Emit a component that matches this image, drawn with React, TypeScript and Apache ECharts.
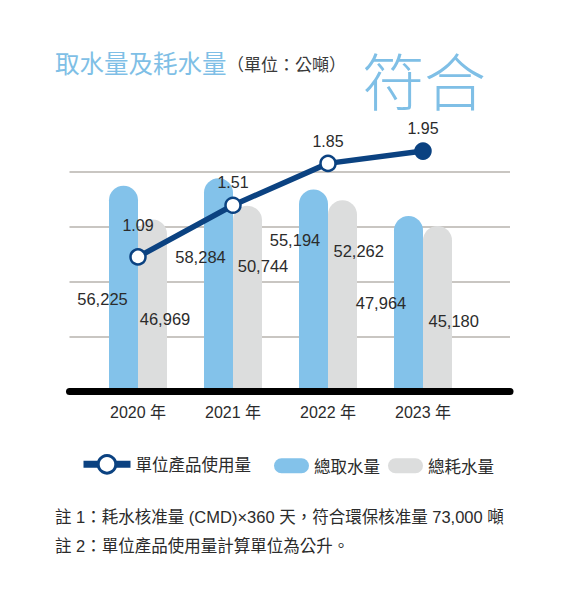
import React, { useEffect, useRef } from "react";
import * as echarts from "echarts";

const years = ["2020 年", "2021 年", "2022 年", "2023 年"];
const intake = [56225, 58284, 55194, 47964];
const consumption = [46969, 50744, 52262, 45180];
const usage = [1.09, 1.51, 1.85, 1.95];
const barTicks = { min: 0, max: 60000, interval: 15000 };

// label placement (kept apart from data)
const intakeLabelPos = [[-6.5, 113.5], [-3.5, 79], [-4, 50.5], [-13, 86.8]];
const consLabelPos = [[27, 99.7], [30, 60], [30.7, 50.8], [30.7, 94.6]];
const usageLabelGap = [14.5, 5.5, 5.5, 5.5];

const FONT = "'Liberation Sans', 'Noto Sans CJK TC', sans-serif";
const CJK = "'Noto Sans CJK TC', 'Liberation Sans', sans-serif";
const NAVY = "#0b4281";
const BLUE = "#83c2ea";
const GRAY = "#dcdddd";
const TITLE_BLUE = "#7fbfe6";
const TEXT = "#2b2b2b";

const pill = "path://M7.5,0 H27.5 A7.5,7.5 0 0 1 27.5,15 H7.5 A7.5,7.5 0 0 1 7.5,0 Z";

export default function App() {
  const ref = useRef<HTMLDivElement>(null);
  useEffect(() => {
    if (!ref.current) return;
    const chart = echarts.init(ref.current, undefined, { renderer: "svg" });
    const fmt = (v: number) => v.toLocaleString("en-US");
    chart.setOption({
      animation: false,
      backgroundColor: "#fff",
      title: [
        { text: "取水量及耗水量", left: 55, top: 50, padding: 0, textStyle: { fontFamily: CJK, fontSize: 24.5, lineHeight: 25, fontWeight: "normal", color: TITLE_BLUE } },
        { text: "（單位：公噸）", left: 227, top: 54, padding: 0, textStyle: { fontFamily: CJK, fontSize: 17, lineHeight: 18, fontWeight: "normal", color: "#3a3a3a" } },
        { text: "符合", left: 362, top: 48, padding: 0, textStyle: { fontFamily: CJK, fontSize: 62, lineHeight: 62, fontWeight: 300, color: TITLE_BLUE } },
      ],
      legend: [
        {
          data: ["單位產品使用量"], left: 80, top: 454, padding: 0, itemWidth: 47, itemHeight: 22,
          lineStyle: { width: 7 }, itemStyle: { borderWidth: 3 },
          textStyle: { fontFamily: CJK, fontSize: 16.5, color: TEXT },
        },
        {
          data: ["總取水量"], left: 274, top: 457.5, padding: 0, itemWidth: 35, itemHeight: 15, icon: pill,
          textStyle: { fontFamily: CJK, fontSize: 16.5, color: TEXT },
        },
        {
          data: ["總耗水量"], left: 388, top: 457.5, padding: 0, itemWidth: 35, itemHeight: 15, icon: pill,
          textStyle: { fontFamily: CJK, fontSize: 16.5, color: TEXT },
        },
      ],
      grid: [
        { left: 69.5, right: 71, top: 172, bottom: 213 },
        { left: 90.5, right: 110.5, top: 172, bottom: 213 },
      ],
      xAxis: [
        {
          type: "value", gridIndex: 0, min: 0, max: 1, z: 10,
          axisLine: { show: true, lineStyle: { color: "#000", width: 7, cap: "round" } },
          axisTick: { show: false }, axisLabel: { show: false }, splitLine: { show: false },
        },
        {
          type: "category", gridIndex: 1, data: years,
          axisLine: { show: false }, axisTick: { show: false },
          axisLabel: { margin: 13, fontFamily: FONT, fontSize: 16, color: TEXT },
        },
      ],
      yAxis: [
        {
          type: "value", gridIndex: 0, ...barTicks,
          axisLine: { show: false }, axisTick: { show: false }, axisLabel: { show: false },
          splitLine: { show: true, lineStyle: { color: "#c9c6c2", width: 2 } },
        },
        { type: "value", gridIndex: 1, ...barTicks, show: false, splitLine: { show: false } },
        { type: "value", gridIndex: 1, min: 0, max: 1.78, show: false, splitLine: { show: false } },
      ],
      graphic: [
        {
          type: "text", left: 55, top: 509,
          style: { text: "註 1：耗水核准量 (CMD)×360 天，符合環保核准量 73,000 噸", fontFamily: FONT, fontSize: 16.5, fill: TEXT },
        },
        {
          type: "text", left: 55, top: 538,
          style: { text: "註 2：單位產品使用量計算單位為公升。", fontFamily: FONT, fontSize: 16.5, fill: TEXT },
        },
      ],
      series: [
        {
          name: "總取水量", type: "bar", xAxisIndex: 1, yAxisIndex: 1,
          barWidth: 29, barGap: "0%", z: 2,
          itemStyle: { color: BLUE, borderRadius: [14.5, 14.5, 0, 0] },
          data: intake.map((v, i) => ({
            value: v,
            label: { show: true, position: intakeLabelPos[i], align: "center", verticalAlign: "middle" },
          })),
          label: { formatter: (p: any) => fmt(p.value), fontFamily: FONT, fontSize: 16.5, color: TEXT },
        },
        {
          name: "總耗水量", type: "bar", xAxisIndex: 1, yAxisIndex: 1,
          barWidth: 29, barGap: "0%", z: 2,
          itemStyle: { color: GRAY, borderRadius: [14.5, 14.5, 0, 0] },
          data: consumption.map((v, i) => ({
            value: v,
            label: { show: true, position: consLabelPos[i], align: "center", verticalAlign: "middle" },
          })),
          label: { formatter: (p: any) => fmt(p.value), fontFamily: FONT, fontSize: 16.5, color: TEXT },
        },
        {
          name: "單位產品使用量", type: "line", xAxisIndex: 1, yAxisIndex: 2, z: 5, clip: false,
          symbol: "circle", symbolSize: 15,
          lineStyle: { color: NAVY, width: 5.5 },
          itemStyle: { color: "#fff", borderColor: NAVY, borderWidth: 2.5 },
          label: { show: true, position: "top", fontFamily: FONT, fontSize: 16, color: TEXT },
          data: usage.map((v, i) => ({
            value: v,
            label: { distance: usageLabelGap[i] },
            ...(i === usage.length - 1 ? { itemStyle: { color: NAVY, borderColor: NAVY } } : {}),
          })),
        },
      ],
    });
    return () => chart.dispose();
  }, []);
  return <div ref={ref} style={{ position: "absolute", left: 0, top: 0, width: 581, height: 604 }} />;
}
